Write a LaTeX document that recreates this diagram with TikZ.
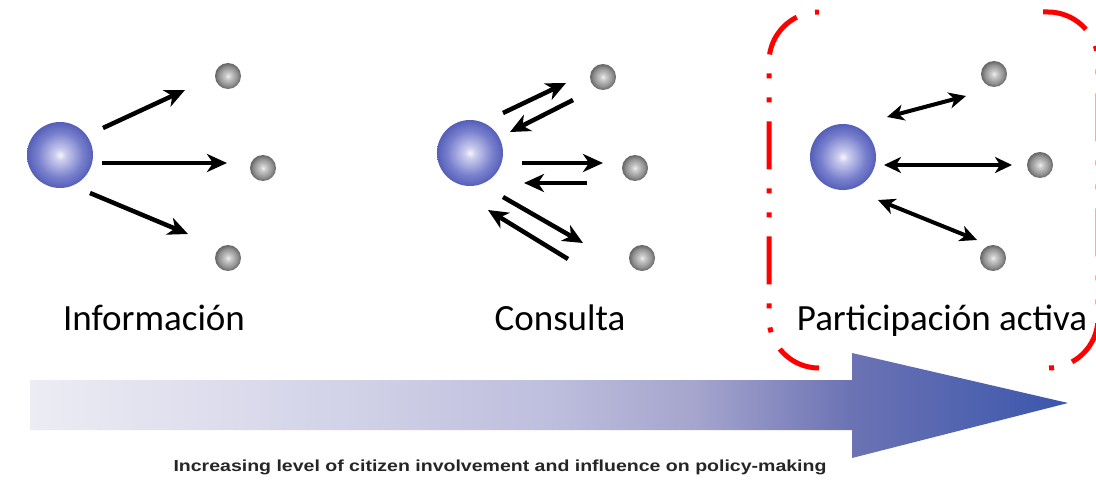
\documentclass[tikz,border=0pt]{standalone}
\usepackage{fontspec}
\setmainfont{Carlito}
\newfontfamily\capfont{Liberation Sans}
\usetikzlibrary{arrows.meta}
\definecolor{bs0}{RGB}{246,246,252}
\definecolor{bs1}{RGB}{205,205,238}
\definecolor{bs2}{RGB}{120,128,205}
\definecolor{bs3}{RGB}{85,95,185}
\definecolor{gs0}{RGB}{240,240,240}
\definecolor{gs1}{RGB}{205,205,205}
\definecolor{gs2}{RGB}{145,145,145}
\definecolor{gs3}{RGB}{100,100,100}
\definecolor{a0}{RGB}{236,236,244}
\definecolor{a1}{RGB}{214,214,234}
\definecolor{a2}{RGB}{190,190,222}
\definecolor{a3}{RGB}{165,165,205}
\definecolor{a4}{RGB}{108,115,180}
\definecolor{a5}{RGB}{58,86,172}
\pgfdeclareradialshading{bluesphere}{\pgfpoint{0bp}{0bp}}{color(0bp)=(bs0); color(4bp)=(bs1); color(17bp)=(bs2); color(25bp)=(bs3); color(50bp)=(bs3)}
\pgfdeclareradialshading{graysphere}{\pgfpoint{0bp}{0bp}}{color(0bp)=(gs0); color(5bp)=(gs1); color(18bp)=(gs2); color(25bp)=(gs3); color(50bp)=(gs3)}
\pgfdeclarehorizontalshading{bigarrow}{100bp}{color(0bp)=(a0); color(25bp)=(a0); color(38bp)=(a1); color(50bp)=(a2); color(57bp)=(a3); color(64.5bp)=(a4); color(75bp)=(a5); color(100bp)=(a5)}
\begin{document}
\begin{tikzpicture}[x=1pt,y=-1pt,
  bigsph/.style={circle, minimum size=66pt, inner sep=0pt, shade, shading=bluesphere},
  smallsph/.style={circle, minimum size=26pt, inner sep=0pt, shade, shading=graysphere},
  lbl/.style={font=\fontsize{37}{44}\selectfont, anchor=base, inner sep=0pt},
  arr/.style={line width=4.5pt, -{Stealth[length=20pt,width=18pt,inset=6pt]}},
  dbl/.style={line width=4pt, {Stealth[length=17pt,width=16pt,inset=5pt]}-{Stealth[length=17pt,width=16pt,inset=5pt]}},
  redbox/.style={draw=red, line width=5pt, dash pattern=on 48pt off 19pt on 5pt off 19pt on 5pt off 19pt, rounded corners=50pt}]
\useasboundingbox (0,0) rectangle (1096,503);
\fill[white] (0,0) rectangle (1096,503);

% big arrow
\shade[shading=bigarrow] (30,380) -- (852,380) -- (852,353) -- (1068,403) -- (852,458) -- (852,430) -- (30,430) -- cycle;

% Informacion
\node[bigsph] (i0) at (60,155) {};
\node[smallsph] (i1) at (228,76) {};
\node[smallsph] (i2) at (263,168) {};
\node[smallsph] (i3) at (228,258) {};
\coordinate (ia1) at (103,128); \coordinate (ib1) at (185,90);
\coordinate (ia2) at (102,163); \coordinate (ib2) at (227,163);
\coordinate (ia3) at (90,193);  \coordinate (ib3) at (188,234);
\draw[arr] (ia1) -- (ib1);
\draw[arr] (ia2) -- (ib2);
\draw[arr] (ia3) -- (ib3);

% Consulta
\node[bigsph] (c0) at (470,153) {};
\node[smallsph] (c1) at (603,77) {};
\node[smallsph] (c2) at (635,168) {};
\node[smallsph] (c3) at (642,258) {};
\coordinate (ca1) at (503,113); \coordinate (cb1) at (566,83);
\coordinate (ca2) at (573,100); \coordinate (cb2) at (510,132);
\coordinate (ca3) at (522,163); \coordinate (cb3) at (603,163);
\coordinate (ca4) at (587,183); \coordinate (cb4) at (524,183);
\coordinate (ca5) at (503,197); \coordinate (cb5) at (583,243);
\coordinate (ca6) at (568,259); \coordinate (cb6) at (488,210);
\draw[arr] (ca1) -- (cb1);
\draw[arr] (ca2) -- (cb2);
\draw[arr] (ca3) -- (cb3);
\draw[arr] (ca4) -- (cb4);
\draw[arr] (ca5) -- (cb5);
\draw[arr] (ca6) -- (cb6);

% Participacion activa
\node[bigsph] (p0) at (843,157) {};
\node[smallsph] (p1) at (994,74) {};
\node[smallsph] (p2) at (1040,165) {};
\node[smallsph] (p3) at (993,258) {};
\coordinate (pa1) at (887,117); \coordinate (pb1) at (966,96);
\coordinate (pa2) at (884,165); \coordinate (pb2) at (1012,165);
\coordinate (pa3) at (878,200); \coordinate (pb3) at (977,240);
\draw[dbl] (pa1) -- (pb1);
\draw[dbl] (pa2) -- (pb2);
\draw[dbl] (pa3) -- (pb3);

% labels
\node[lbl] (l1) at (154,330) {Información};
\node[lbl] (l2) at (560,330) {Consulta};
\node[lbl] (l3) at (942,330) {Participación activa};

% red dash-dot box
\draw[redbox, dash phase=92pt] (819,12) -- (769,12) -- (769,368) -- (819,368);
\draw[redbox, dash phase=112pt] (1040,12) -- (1098,12) -- (1098,368) -- (1035,368);

% caption
\node[anchor=base, inner sep=0pt, font=\capfont\bfseries\fontsize{16}{19}\selectfont, text=black!85] (cap) at (500,471)
  {\scalebox{1.22}[1]{Increasing level of citizen involvement and influence on policy-making}};
\end{tikzpicture}
\end{document}
